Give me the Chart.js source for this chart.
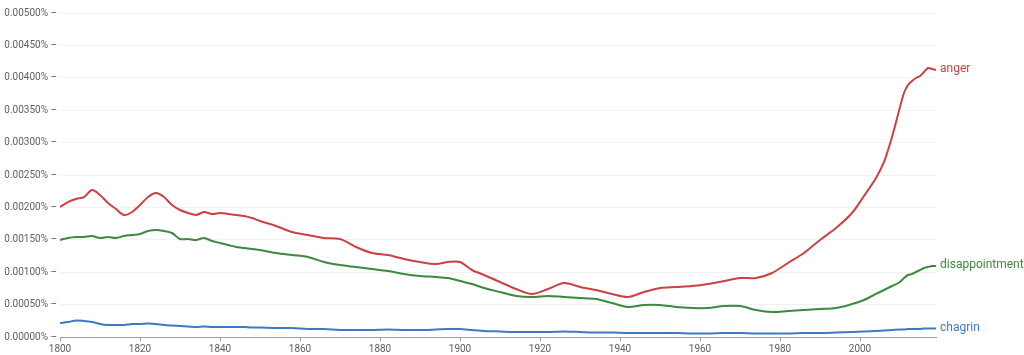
<!DOCTYPE html>
<html>
<head>
<meta charset="utf-8">
<script src="https://cdn.jsdelivr.net/npm/chart.js@4"></script>
<style>
  html, body { margin: 0; padding: 0; background: #fff; }
  #wrap { width: 1024px; height: 355px; }
</style>
</head>
<body>
<div id="wrap"><canvas id="chart-area" width="1024" height="355"></canvas></div>
<script>
// years sampled from the ngram curves
var years = [1800,1802,1804,1806,1808,1810,1812,1814,1816,1818,1820,1822,1824,1826,1828,1830,1832,1834,1836,1838,
  1840,1842,1844,1846,1848,1850,1854,1858,1862,1866,1870,1874,1878,1882,1886,1890,1894,1897,1900,1903,
  1906,1910,1914,1918,1922,1926,1930,1934,1938,1942,1946,1950,1954,1958,1962,1966,1970,1974,1978,1982,
  1986,1990,1994,1998,2001,2004,2006,2008,2010,2011,2012,2013,2014,2015,2016,2017,2018,2019];

// values in percent
var anger = [0.002006,0.002083,0.002130,0.002160,0.002269,0.002191,0.002068,0.001975,0.001883,0.001929,
  0.002037,0.002160,0.002222,0.002160,0.002037,0.001960,0.001914,0.001883,0.001929,0.001898,
  0.001914,0.001898,0.001883,0.001867,0.001836,0.001790,0.001713,0.001620,0.001574,0.001528,
  0.001512,0.001389,0.001296,0.001265,0.001204,0.001157,0.001127,0.001157,0.001157,0.001034,
  0.000957,0.000849,0.000741,0.000664,0.000741,0.000833,0.000772,0.000725,0.000664,0.000617,
  0.000694,0.000756,0.000772,0.000787,0.000818,0.000864,0.000910,0.000910,0.000988,0.001142,
  0.001296,0.001497,0.001682,0.001914,0.002176,0.002454,0.002701,0.003086,0.003549,0.003765,
  0.003889,0.003951,0.003997,0.004028,0.004090,0.004151,0.004136,0.004120];

var disappointment = [0.001497,0.001528,0.001543,0.001543,0.001559,0.001528,0.001543,0.001528,0.001559,0.001574,
  0.001590,0.001636,0.001651,0.001636,0.001605,0.001512,0.001512,0.001497,0.001528,0.001481,
  0.001451,0.001420,0.001389,0.001373,0.001358,0.001343,0.001296,0.001265,0.001235,0.001157,
  0.001111,0.001080,0.001049,0.001019,0.000972,0.000941,0.000926,0.000910,0.000864,0.000818,
  0.000756,0.000694,0.000633,0.000617,0.000633,0.000617,0.000602,0.000586,0.000525,0.000463,
  0.000494,0.000494,0.000463,0.000448,0.000448,0.000478,0.000478,0.000417,0.000386,0.000401,
  0.000417,0.000432,0.000448,0.000509,0.000571,0.000664,0.000725,0.000787,0.000849,0.000910,
  0.000957,0.000972,0.001003,0.001034,0.001065,0.001080,0.001096,0.001096];

var chagrin = [0.000216,0.000231,0.000255,0.000247,0.000231,0.000201,0.000185,0.000185,0.000185,0.000201,
  0.000201,0.000208,0.000201,0.000185,0.000177,0.000170,0.000162,0.000154,0.000162,0.000154,
  0.000154,0.000154,0.000154,0.000154,0.000147,0.000147,0.000139,0.000139,0.000123,0.000123,
  0.000108,0.000108,0.000108,0.000116,0.000108,0.000108,0.000116,0.000123,0.000123,0.000108,
  0.000093,0.000085,0.000077,0.000077,0.000077,0.000085,0.000077,0.000069,0.000069,0.000062,
  0.000062,0.000062,0.000062,0.000054,0.000054,0.000062,0.000062,0.000054,0.000054,0.000054,
  0.000062,0.000062,0.000069,0.000077,0.000085,0.000093,0.000100,0.000108,0.000116,0.000116,
  0.000123,0.000123,0.000123,0.000123,0.000131,0.000131,0.000131,0.000131];

var seriesNames = ['anger', 'disappointment', 'chagrin'];
var seriesColors = ['#cc4141', '#3b8a3e', '#3b7bc6'];
var xTicks = [1800, 1820, 1840, 1860, 1880, 1900, 1920, 1940, 1960, 1980, 2000];

function toPoints(vals) {
  return years.map(function (yr, i) { return { x: yr, y: vals[i] }; });
}

// writes the series name just right of the last point
var endLabels = {
  id: 'endLabels',
  afterDatasetsDraw: function (chart) {
    var ctx = chart.ctx;
    ctx.save();
    ctx.font = '12px Roboto';
    ctx.textBaseline = 'middle';
    ctx.textAlign = 'left';
    chart.data.datasets.forEach(function (ds, i) {
      var pts = chart.getDatasetMeta(i).data;
      var last = pts[pts.length - 1];
      ctx.fillStyle = ds.borderColor;
      ctx.fillText(ds.label, last.x + 4, last.y - 1);
    });
    ctx.restore();
  }
};

var allSeries = [anger, disappointment, chagrin];
var ctx = document.getElementById('chart-area').getContext('2d');
var chart = new Chart(ctx, {
  type: 'line',
  data: {
    datasets: allSeries.map(function (vals, i) {
      return {
        label: seriesNames[i],
        data: toPoints(vals),
        borderColor: seriesColors[i],
        borderWidth: 2,
        pointRadius: 0,
        tension: 0.3,
        fill: false
      };
    })
  },
  options: {
    responsive: false,
    animation: false,
    layout: { padding: { left: 0, right: 88, top: 13, bottom: 0 } },
    plugins: {
      legend: { display: false },
      tooltip: { enabled: false }
    },
    scales: {
      x: {
        type: 'linear',
        min: 1800,
        max: 2019,
        afterBuildTicks: function (scale) {
          scale.ticks = xTicks.map(function (v) { return { value: v }; });
        },
        afterFit: function (scale) { scale.height = 18; },
        grid: {
          drawOnChartArea: false,
          tickLength: 4,
          tickColor: '#9e9e9e'
        },
        border: { display: true, color: '#9e9e9e', width: 1 },
        ticks: {
          color: '#616161',
          font: { family: 'Roboto', size: 10 },
          padding: 2,
          maxRotation: 0,
          callback: function (v) { return String(v); }
        }
      },
      y: {
        min: 0,
        max: 0.005,
        afterFit: function (scale) { scale.width = 60; },
        grid: {
          color: '#f1f1f1',
          drawTicks: false
        },
        border: { display: false },
        ticks: {
          stepSize: 0.0005,
          color: '#616161',
          font: { family: 'Roboto', size: 10 },
          padding: 3,
          callback: function (v) { return v.toFixed(5) + '% \u2013'; }
        }
      }
    }
  },
  plugins: [endLabels]
});
</script>
</body>
</html>
